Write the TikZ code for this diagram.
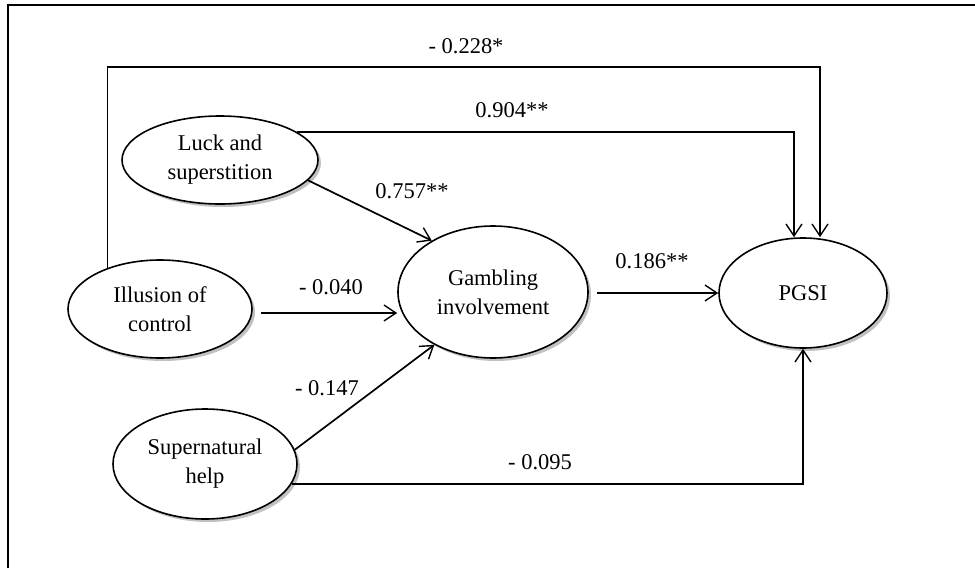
\documentclass[tikz,border=0pt]{standalone}
\usepackage{fontspec}
\setmainfont{Liberation Serif}
\usetikzlibrary{shapes.geometric,shadows,arrows.meta}
\begin{document}
\begin{tikzpicture}[x=1pt,y=-1pt,
  ell/.style={ellipse, draw, line width=1.6pt, fill=white, inner sep=0pt, align=center,
    font=\fontsize{22.5}{29}\selectfont,
    drop shadow={shadow xshift=3pt, shadow yshift=-3pt, fill=black!30, opacity=0.8}},
  conn/.style={line width=1.7pt},
  arr/.style={conn, -{Straight Barb[length=12pt,width=16pt,line width=1.4pt]}},
  lbl/.style={anchor=base, inner sep=0pt, font=\fontsize{22.5}{26}\selectfont}]
\useasboundingbox (0,0) rectangle (975,568);
\fill[white] (0,0) rectangle (975,568);
\draw[line width=2pt] (8,568) -- (8,5) -- (975,5);

\node[ell, minimum width=196pt, minimum height=88pt] (luck) at (220,160) {Luck and\\superstition};
\node[ell, minimum width=184pt, minimum height=98pt] (ill) at (160,309) {Illusion of\\control};
\node[ell, minimum width=184pt, minimum height=110pt] (sup) at (205,464) {Supernatural\\help};
\node[ell, minimum width=190pt, minimum height=132pt] (gam) at (493,292) {Gambling\\involvement};
\node[ell, minimum width=168pt, minimum height=110pt] (pgsi) at (803,293) {PGSI};

\coordinate (t1) at (820,67);
\coordinate (l1) at (794,132);
\coordinate (iy) at (0,313);

\draw[arr] (ill.142) |- (t1) -- (t1 |- pgsi.north);
\draw[arr] (luck.20) -| (l1 |- pgsi.north);
\draw[arr] (luck.-13) -- (gam.140);
\draw[arr] ([xshift=8pt]ill.east |- iy) -- (gam.west |- iy);
\draw[arr] (sup.9) -- (gam.222);
\draw[arr] ([xshift=8pt]gam.east |- pgsi.west) -- (pgsi.west);
\draw[arr] (sup.-13) -| (pgsi.south);

\node[lbl] (a) at (466,53) {- 0.228*};
\node[lbl] (b) at (512,117) {0.904**};
\node[lbl] (c) at (412,198) {0.757**};
\node[lbl] (d) at (331,294) {- 0.040};
\node[lbl] (e) at (652,268) {0.186**};
\node[lbl] (f) at (327,395) {- 0.147};
\node[lbl] (g) at (540,469) {- 0.095};
\end{tikzpicture}
\end{document}
